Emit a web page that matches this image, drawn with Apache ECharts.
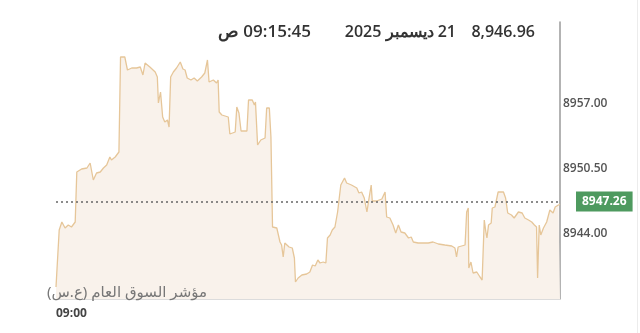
<!DOCTYPE html>
<html>
<head>
<meta charset="utf-8">
<script src="https://cdn.jsdelivr.net/npm/echarts@6/dist/echarts.min.js"></script>
<style>
html,body{margin:0;padding:0;background:#fff;}
#c{width:640px;height:333px;direction:rtl;}
</style>
</head>
<body>
<div id="c"></div>
<script>
// seconds since 09:00:00
const secs = [0,6,11,17,23,29,36,39,48,58,64,67,70,76,83,89,95,101,104,111,114,118,121,129,134,142,151,158,163,167,176,186,190,192,196,200,204,209,212,215,220,226,233,238,242,246,253,259,265,273,279,284,287,295,301,304,306,311,323,326,336,339,343,347,358,361,368,372,374,378,384,392,395,400,403,406,414,420,423,426,429,437,443,447,449,454,461,470,476,481,486,491,495,501,506,509,514,518,523,528,531,534,541,545,554,564,568,573,578,583,587,591,593,601,611,617,620,626,632,637,642,647,654,661,666,670,679,689,698,707,717,729,742,748,751,754,767,770,773,774,778,782,789,795,799,803,806,808,811,816,818,823,829,839,843,847,854,859,867,874,879,886,892,897,901,903,906,909,914,920,926,929,932,936,942,945];
const values = [8938.7,8944.4,8945.2,8944.6,8944.9,8944.7,8945.2,8950.2,8950.5,8950.6,8951.1,8951.3,8949.4,8950.1,8950.2,8950.6,8950.9,8951.7,8951.4,8951.7,8951.6,8952.2,8961.7,8961.7,8960.4,8960.6,8960.6,8960.7,8959.9,8961.1,8960.7,8960.2,8959.7,8957.1,8958.2,8955.7,8955.2,8955.4,8954.7,8959.7,8960.2,8960.6,8961.2,8960.5,8960.4,8959.6,8959.4,8959.6,8959.3,8959.7,8960.1,8961.4,8959.2,8959.4,8959.1,8959.4,8956.2,8955.9,8955.7,8954.0,8954.2,8956.7,8956.1,8954.3,8954.3,8957.4,8957.4,8956.9,8957.2,8952.9,8953.4,8953.6,8956.6,8956.6,8953.7,8944.7,8944.6,8943.2,8942.9,8941.7,8943.1,8942.7,8942.6,8941.6,8939.2,8939.6,8939.9,8940.0,8940.2,8940.9,8940.8,8941.4,8941.1,8941.2,8941.1,8943.6,8943.9,8944.4,8944.7,8946.2,8946.4,8948.9,8949.6,8949.1,8948.9,8948.6,8948.1,8948.2,8947.6,8946.2,8947.6,8948.9,8947.3,8947.3,8947.5,8948.2,8945.7,8945.6,8944.9,8944.1,8944.9,8944.2,8944.1,8943.6,8943.7,8943.2,8943.1,8943.1,8943.1,8943.2,8943.0,8942.9,8942.8,8942.6,8941.7,8942.7,8942.9,8946.2,8946.6,8940.6,8941.2,8940.1,8940.2,8939.7,8939.4,8945.4,8944.2,8943.6,8944.9,8945.1,8946.6,8946.7,8948.2,8948.2,8947.6,8946.1,8945.9,8945.6,8946.2,8946.1,8945.6,8945.4,8945.2,8944.9,8944.7,8939.6,8944.9,8943.9,8944.6,8945.2,8946.4,8946.6,8946.1,8946.7,8946.9,8946.96];
const yTickLabels = [8944.00, 8950.50, 8957.00];
const xTickLabels = ['09:00'];
const refValue = 8947.26;
const headerValue = '8,946.96';
const headerDate = '21 ديسمبر 2025';
const headerTime = '09:15:45 ص';
const indexName = 'مؤشر السوق العام (ع.س)';

const data = secs.map((s, i) => [s, values[i]]);
const chart = echarts.init(document.getElementById('c'), null, {renderer: 'canvas'});
chart.setOption({
  animation: false,
  backgroundColor: '#ffffff',
  grid: {left: 56, right: 80, top: 22, bottom: 34},
  xAxis: {
    type: 'value', min: 0, max: 945, interval: 945,
    axisLine: {show: true, onZero: false, lineStyle: {color: '#dcdcdc', width: 1}},
    axisTick: {show: false}, splitLine: {show: false},
    axisLabel: {
      show: true, align: 'left', margin: 9,
      color: '#444', fontSize: 12, fontWeight: 700, fontFamily: 'Open Sans',
      formatter: v => (v === 0 ? xTickLabels[0] : '')
    }
  },
  yAxis: {
    type: 'value', position: 'right', min: 8937.5, max: 8965.2, interval: 6.5,
    axisLine: {show: true, onZero: false, lineStyle: {color: '#9a9a9a', width: 1.5}},
    axisTick: {show: false}, splitLine: {show: false},
    axisLabel: {
      show: true, margin: 3, color: '#555', fontSize: 12, fontWeight: 600, fontFamily: 'Open Sans',
      showMaxLabel: false,
      formatter: v => {
        const hit = yTickLabels.find(t => Math.abs(t - v) < 1e-6);
        return hit !== undefined ? hit.toFixed(2) : '';
      }
    }
  },
  series: [{
    type: 'line', data: data, showSymbol: false, symbol: 'none',
    lineStyle: {color: '#e6c699', width: 1.3},
    areaStyle: {color: '#f9f2eb', opacity: 1},
    markLine: {
      silent: true, symbol: ['none', 'none'],
      lineStyle: {color: '#666', type: [2, 3], width: 1.5},
      label: {
        show: true, position: 'end', distance: 16,
        formatter: () => refValue.toFixed(2),
        backgroundColor: '#4e9a5f', color: '#fff', padding: [4, 6],
        fontSize: 12, fontWeight: 700, fontFamily: 'Open Sans'
      },
      data: [{yAxis: refValue}]
    }
  }],
  graphic: [
    {type: 'line', z: 100, shape: {x1: 637.5, y1: 0, x2: 637.5, y2: 333}, style: {stroke: '#ececec', lineWidth: 1}},
    {type: 'text', z: 100, style: {text: headerValue, x: 535, y: 32, textAlign: 'right', textVerticalAlign: 'middle', fill: '#333', font: '600 16px "Open Sans"'}},
    {type: 'text', z: 100, style: {text: headerDate, x: 456, y: 32, textAlign: 'right', textVerticalAlign: 'middle', fill: '#333', font: '600 16px "Open Sans"'}},
    {type: 'text', z: 100, style: {text: headerTime, x: 311, y: 32, textAlign: 'right', textVerticalAlign: 'middle', fill: '#333', font: '600 17px "Open Sans"'}},
    {type: 'text', z: 100, style: {text: indexName, x: 207, y: 293, textAlign: 'right', textVerticalAlign: 'middle', fill: '#777', font: '15px "Noto Sans", "DejaVu Sans"'}}
  ]
});
</script>
</body>
</html>
